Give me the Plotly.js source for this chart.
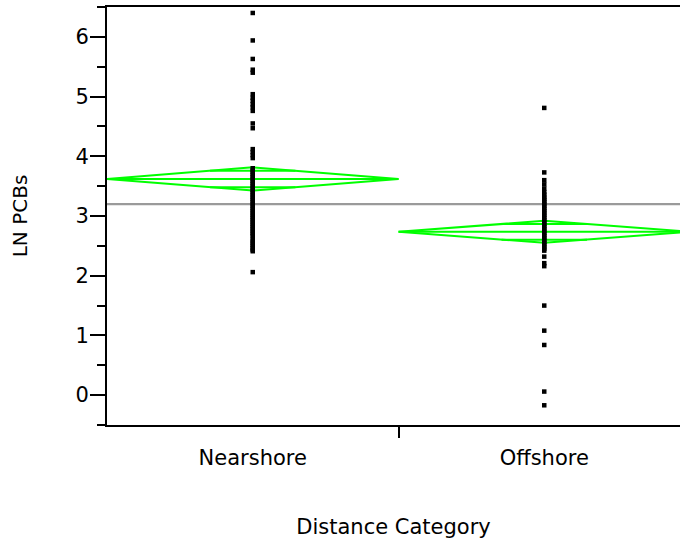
<!DOCTYPE html>
<html>
<head>
<meta charset="utf-8">
<script src="https://cdn.plot.ly/plotly-3.0.1.min.js"></script>
<style>html,body{margin:0;padding:0;background:#fff;}#chart{width:680px;height:542px;}</style>
</head>
<body>
<div id="chart"></div>
<script>
// Categories and their positions on the (proportional) category axis
var categories = ["Nearshore", "Offshore"];
var categoryCenters = [0.5, 1.5];
var categoryHalfWidths = [0.5, 0.5];

var nearshoreValues = [6.40, 5.94, 5.63, 5.45, 5.40, 5.04, 4.98, 4.93, 4.87, 4.82, 4.76, 4.55, 4.47,
  4.12, 4.07, 4.02, 3.97, 3.80, 3.77, 3.74, 3.71, 3.68, 3.65, 3.62, 3.59, 3.56, 3.53, 3.50, 3.47,
  3.44, 3.41, 3.38, 3.35, 3.32, 3.29, 3.26, 3.23, 3.20, 3.17, 3.14, 3.11, 3.08, 3.05, 3.02, 2.99,
  2.96, 2.93, 2.90, 2.87, 2.84, 2.81, 2.78, 2.75, 2.72, 2.69, 2.66, 2.61, 2.58, 2.55, 2.52, 2.49,
  2.46, 2.43, 2.41, 2.06];
var offshoreValues = [4.81, 3.73, 3.60, 3.53, 3.46, 3.40, 3.36, 3.32, 3.29, 3.26, 3.23, 3.20, 3.17,
  3.14, 3.11, 3.08, 3.05, 3.02, 2.99, 2.96, 2.93, 2.90, 2.87, 2.84, 2.81, 2.78, 2.75, 2.72, 2.69,
  2.66, 2.63, 2.60, 2.57, 2.54, 2.51, 2.48, 2.45, 2.42, 2.32, 2.21, 2.16, 1.50, 1.08, 0.84, 0.06, -0.17];

// Means diamonds (group mean and 95% CI half-width)
var groupMeans = [3.62, 2.735];
var groupCIHalf = [0.195, 0.185];
var grandMean = 3.20;

// Y axis ticks
var yTickVals = [0, 1, 2, 3, 4, 5, 6];
var yTickText = ["0", "1", "2", "3", "4", "5", "6"];

var green = "#00ff00";
var traces = [];

// grand mean line
traces.push({x: [0, 2], y: [grandMean, grandMean], mode: "lines",
  line: {color: "#9a9a9a", width: 2.2}, hoverinfo: "skip", showlegend: false});

// means diamonds
for (var i = 0; i < categories.length; i++) {
  var xc = categoryCenters[i], hw = categoryHalfWidths[i];
  var m = groupMeans[i], c = groupCIHalf[i];
  traces.push({x: [xc - hw, xc, xc + hw, xc, xc - hw], y: [m, m + c, m, m - c, m],
    mode: "lines", line: {color: green, width: 2}, hoverinfo: "skip", showlegend: false});
  traces.push({x: [xc - hw, xc + hw], y: [m, m], mode: "lines",
    line: {color: green, width: 2}, hoverinfo: "skip", showlegend: false});
  var ov = c / Math.SQRT2, ow = hw * (1 - 1 / Math.SQRT2);
  traces.push({x: [xc - ow, xc + ow, null, xc - ow, xc + ow], y: [m + ov, m + ov, null, m - ov, m - ov],
    mode: "lines", line: {color: green, width: 2}, hoverinfo: "skip", showlegend: false});
}

// points
var groupValues = [nearshoreValues, offshoreValues];
for (var g = 0; g < categories.length; g++) {
  traces.push({x: groupValues[g].map(function () { return categoryCenters[g]; }), y: groupValues[g],
    mode: "markers", marker: {symbol: "square", size: 4.5, color: "#000"},
    name: categories[g], showlegend: false});
}

var font = "DejaVu Sans, sans-serif";
var layout = {
  width: 680, height: 542,
  margin: {l: 107, r: 0, t: 7, b: 117},
  paper_bgcolor: "#fff", plot_bgcolor: "#fff",
  showlegend: false,
  font: {family: font, size: 21, color: "#000"},
  xaxis: {
    range: [0, 1.9657], showgrid: false, zeroline: false,
    showline: true, linecolor: "#000", linewidth: 2, mirror: true,
    tickmode: "array", tickvals: categoryCenters, ticktext: categories,
    ticks: "", ticklabelstandoff: 13,
    tickfont: {family: font, size: 21, color: "#000"},
    minor: {tickmode: "array", tickvals: [1], ticks: "outside", ticklen: 11, tickwidth: 2, tickcolor: "#000"},
    title: {text: "Distance Category", font: {family: font, size: 21, color: "#000"}, standoff: 50}
  },
  yaxis: {
    range: [-0.5, 6.5], showgrid: false, zeroline: false,
    showline: true, linecolor: "#000", linewidth: 2,
    tickmode: "array", tickvals: yTickVals, ticktext: yTickText,
    ticks: "outside", ticklen: 15, tickwidth: 2, tickcolor: "#000",
    ticklabelstandoff: -3,
    tickfont: {family: font, size: 21, color: "#000"},
    minor: {dtick: 0.5, tick0: 0, ticks: "outside", ticklen: 8, tickwidth: 2, tickcolor: "#000"},
    title: {text: "LN PCBs", font: {family: font, size: 20, color: "#000"}, standoff: 42}
  }
};

Plotly.newPlot("chart", traces, layout, {staticPlot: true, displayModeBar: false});
</script>
</body>
</html>
